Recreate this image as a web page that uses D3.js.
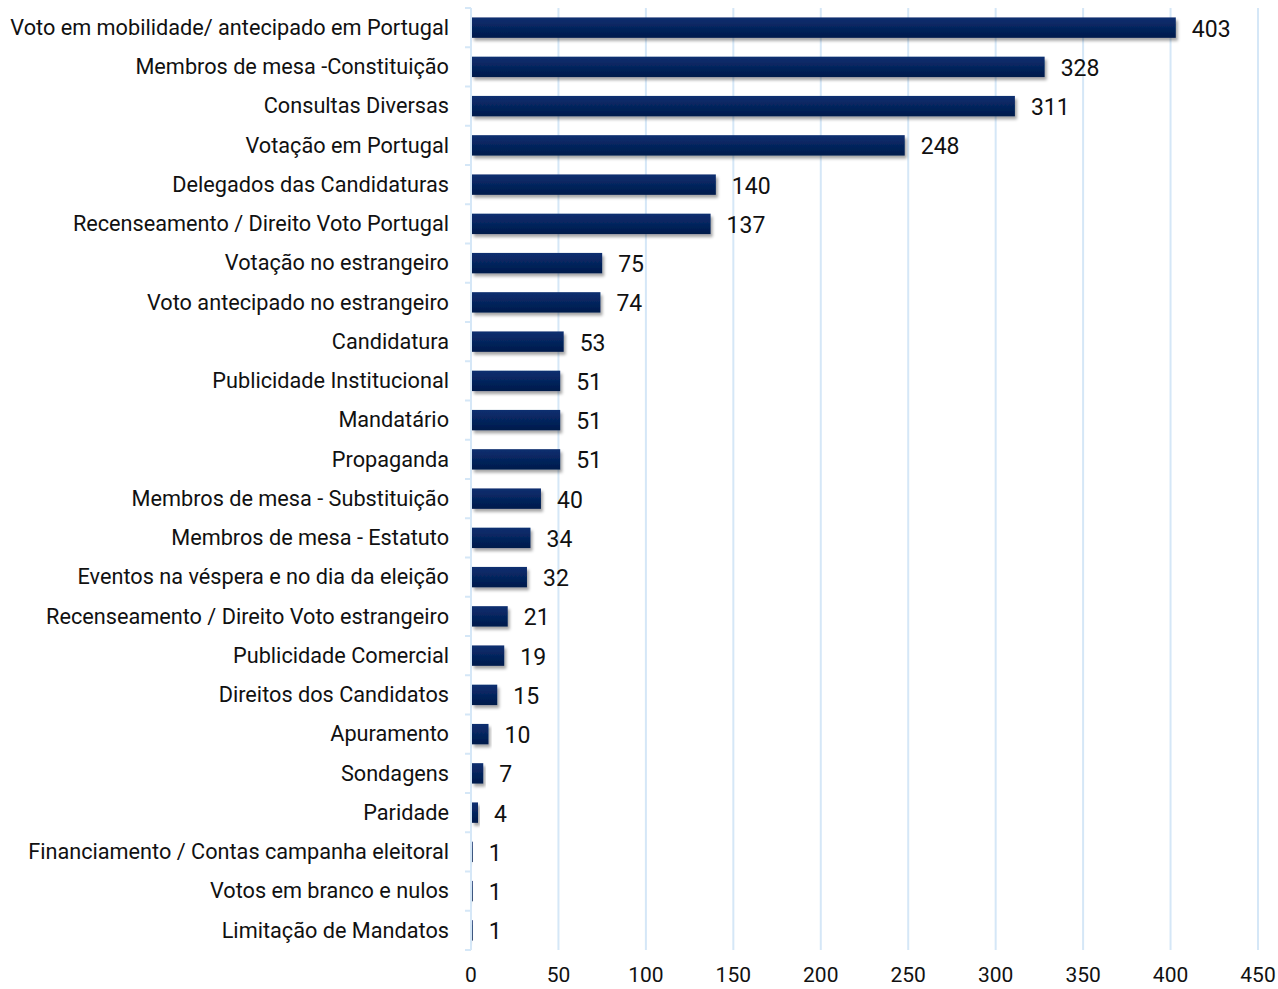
<!DOCTYPE html>
<html>
<head>
<meta charset="utf-8">
<script src="https://cdn.jsdelivr.net/npm/d3@7"></script>
<style>
  body { margin: 0; background: #fff; }
  text { font-family: Roboto, "DejaVu Sans", sans-serif; fill: #111; }
</style>
</head>
<body>
<div id="chart"></div>
<script>
let categories = [
  'Voto em mobilidade/ antecipado em Portugal',
  'Membros de mesa -Constituição',
  'Consultas Diversas',
  'Votação em Portugal',
  'Delegados das Candidaturas',
  'Recenseamento / Direito Voto Portugal',
  'Votação no estrangeiro',
  'Voto antecipado no estrangeiro',
  'Candidatura',
  'Publicidade Institucional',
  'Mandatário',
  'Propaganda',
  'Membros de mesa - Substituição',
  'Membros de mesa - Estatuto',
  'Eventos na véspera e no dia da eleição',
  'Recenseamento / Direito Voto estrangeiro',
  'Publicidade Comercial',
  'Direitos dos Candidatos',
  'Apuramento',
  'Sondagens',
  'Paridade',
  'Financiamento / Contas campanha eleitoral',
  'Votos em branco e nulos',
  'Limitação de Mandatos'
]
let values = [403, 328, 311, 248, 140, 137, 75, 74, 53, 51, 51, 51, 40, 34, 32, 21, 19, 15, 10, 7, 4, 1, 1, 1]
let ticks = [0, 50, 100, 150, 200, 250, 300, 350, 400, 450]

let data = categories.map((c, i) => ({ name: c, value: values[i] }))

let margin = { top: 8, left: 471, right: 20, bottom: 39 }
let width = 1278 - margin.left - margin.right
let height = 989 - margin.top - margin.bottom

let svg = d3
  .select('#chart')
  .append('svg')
  .attr('width', 1278)
  .attr('height', 989)

let defs = svg.append('defs')
let grad = defs.append('linearGradient')
  .attr('id', 'barGrad')
  .attr('x1', 0).attr('y1', 0).attr('x2', 0).attr('y2', 1)
grad.append('stop').attr('offset', '0%').attr('stop-color', '#0c2f70')
grad.append('stop').attr('offset', '100%').attr('stop-color', '#001a4b')

let shadow = defs.append('filter').attr('id', 'shadow')
  .attr('x', '-10%').attr('y', '-30%').attr('width', '130%').attr('height', '180%')
shadow.append('feDropShadow')
  .attr('dx', 2).attr('dy', 3).attr('stdDeviation', 1.6)
  .attr('flood-color', '#000').attr('flood-opacity', 0.35)

let g = svg.append('g').attr('transform', `translate(${margin.left},${margin.top})`)

let x = d3.scaleLinear().domain([0, 450]).range([0, 787])
let y = d3.scaleBand().domain(categories).range([0, height]).paddingInner(0.48).paddingOuter(0.24)

// vertical gridlines
g.selectAll('.grid')
  .data(ticks.slice(1))
  .enter()
  .append('line')
  .attr('class', 'grid')
  .attr('x1', d => x(d)).attr('x2', d => x(d))
  .attr('y1', 0).attr('y2', height)
  .attr('stroke', '#d5e7f7')
  .attr('stroke-width', 2)

// left axis with category boundary ticks
g.append('line')
  .attr('x1', 0).attr('x2', 0).attr('y1', 0).attr('y2', height)
  .attr('stroke', '#d5e7f7').attr('stroke-width', 2)
g.selectAll('.ytick')
  .data(d3.range(categories.length + 1))
  .enter()
  .append('line')
  .attr('x1', -6).attr('x2', 0)
  .attr('y1', i => i * height / categories.length)
  .attr('y2', i => i * height / categories.length)
  .attr('stroke', '#d5e7f7').attr('stroke-width', 2)

// bars
g.selectAll('.bar')
  .data(data)
  .enter()
  .append('rect')
  .attr('class', 'bar')
  .attr('x', 1)
  .attr('y', d => y(d.name))
  .attr('width', d => x(d.value) - 1)
  .attr('height', y.bandwidth())
  .attr('fill', 'url(#barGrad)')
  .attr('filter', 'url(#shadow)')

// value labels
g.selectAll('.val')
  .data(data)
  .enter()
  .append('text')
  .attr('x', d => x(d.value) + 16)
  .attr('y', d => y(d.name) + y.bandwidth() / 2 + 3)
  .attr('dominant-baseline', 'middle')
  .attr('font-size', 23)
  .text(d => d.value)

// category labels
g.selectAll('.cat')
  .data(data)
  .enter()
  .append('text')
  .attr('x', -22)
  .attr('y', d => y(d.name) + y.bandwidth() / 2 + 1.5)
  .attr('dominant-baseline', 'middle')
  .attr('text-anchor', 'end')
  .attr('font-size', 21.7)
  .text(d => d.name)

// x tick labels
g.selectAll('.xt')
  .data(ticks)
  .enter()
  .append('text')
  .attr('x', d => x(d))
  .attr('y', height + 26)
  .attr('text-anchor', 'middle')
  .attr('dominant-baseline', 'middle')
  .attr('font-size', 21)
  .text(d => d)
</script>
</body>
</html>
